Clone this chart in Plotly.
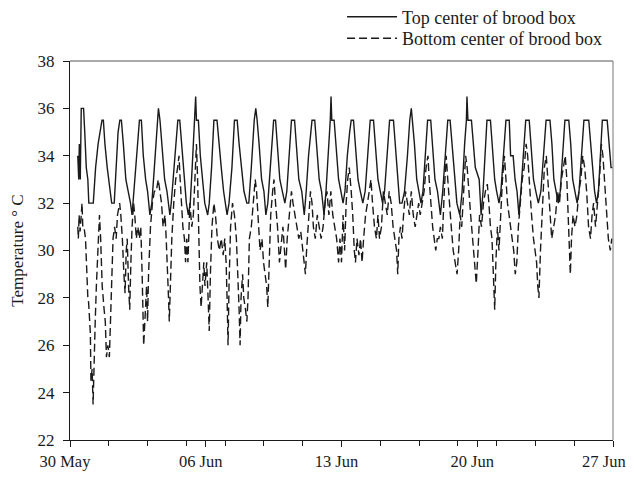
import numpy as np
import pandas as pd
import plotly.graph_objects as go

# ---- data (days since 30 May 00:00, temperature in deg C) ----
top_day = [
    0.40, 0.45, 0.48, 0.53, 0.58, 0.70, 0.76, 0.84, 0.92, 0.97,
    1.20, 1.32, 1.45, 1.55, 1.65, 1.72, 1.80, 1.92, 2.05,
    2.15, 2.28, 2.38, 2.48, 2.57, 2.65, 2.75, 2.88, 3.00,
    3.12, 3.20, 3.30, 3.45, 3.58, 3.68, 3.78, 3.90, 4.00,
    4.12, 4.22, 4.35, 4.48, 4.56, 4.64, 4.75, 4.88, 5.00,
    5.15, 5.22, 5.35, 5.48, 5.56, 5.66, 5.75, 5.88, 6.00,
    6.10, 6.20, 6.30, 6.42, 6.48, 6.52, 6.62, 6.72, 6.85, 6.95,
    7.10, 7.18, 7.30, 7.42, 7.58, 7.68, 7.80, 7.92,
    8.10, 8.20, 8.35, 8.48, 8.62, 8.72, 8.85, 8.97,
    9.12, 9.22, 9.35, 9.50, 9.58, 9.65, 9.75, 9.88, 10.00,
    10.10, 10.20, 10.32, 10.44, 10.50, 10.60, 10.70, 10.82, 10.95,
    11.08, 11.18, 11.30, 11.42, 11.58, 11.68, 11.80, 11.95,
    12.08, 12.18, 12.30, 12.42, 12.48, 12.62, 12.72, 12.85, 12.97,
    13.10, 13.20, 13.32, 13.42, 13.46, 13.50, 13.62, 13.72, 13.85, 13.97,
    14.08, 14.18, 14.30, 14.42, 14.50, 14.62, 14.72, 14.85, 14.97,
    15.10, 15.22, 15.35, 15.48, 15.65, 15.75, 15.88, 16.00,
    16.12, 16.22, 16.35, 16.48, 16.68, 16.78, 16.90, 17.00,
    17.12, 17.25, 17.40, 17.52, 17.60, 17.66, 17.76, 17.88, 18.00,
    18.10, 18.20, 18.32, 18.44, 18.60, 18.70, 18.82, 18.95,
    19.10, 19.22, 19.35, 19.48, 19.60, 19.70, 19.82, 19.95,
    20.10, 20.22, 20.35, 20.44, 20.47, 20.52, 20.70, 20.80, 20.90, 21.10,
    21.20, 21.30, 21.40, 21.50, 21.68, 21.78, 21.90, 22.00,
    22.12, 22.22, 22.35, 22.48, 22.65, 22.72, 22.85, 22.95, 23.05,
    23.15, 23.25, 23.38, 23.50, 23.68, 23.78, 23.90, 24.02,
    24.15, 24.28, 24.42, 24.55, 24.75, 24.85, 24.95, 25.05,
    25.18, 25.28, 25.40, 25.52, 25.72, 25.82, 25.92, 26.05,
    26.15, 26.25, 26.38, 26.50, 26.75, 26.85, 26.95, 27.05,
    27.15, 27.25, 27.35, 27.45, 27.70, 27.80, 27.90, 27.97,
]
top_temp = [
    34.0, 33.0, 34.5, 33.0, 36.0, 36.0, 35.0, 33.5, 33.0, 32.0,
    32.0, 33.5, 34.5, 35.0, 35.5, 35.5, 34.5, 33.5, 32.5,
    32.0, 32.0, 33.5, 35.0, 35.5, 35.5, 34.5, 33.0, 32.5,
    32.0, 31.5, 32.5, 34.0, 35.5, 35.5, 34.0, 33.0, 32.5,
    31.5, 32.0, 33.5, 35.0, 36.0, 35.5, 34.5, 33.0, 32.5,
    31.5, 32.0, 33.5, 35.0, 35.5, 35.5, 34.5, 33.0, 32.0,
    31.5, 32.0, 33.5, 35.5, 36.5, 35.5, 35.5, 34.0, 33.0, 32.0,
    31.5, 32.0, 33.5, 35.5, 35.5, 34.5, 33.5, 32.5,
    31.5, 32.0, 33.5, 35.5, 35.5, 34.5, 33.5, 32.5,
    32.0, 32.0, 33.5, 35.5, 36.0, 35.5, 34.5, 33.0, 32.5,
    31.5, 32.0, 33.5, 35.0, 35.5, 35.5, 34.5, 33.0, 32.5,
    32.0, 32.5, 34.0, 35.5, 35.5, 34.5, 33.0, 32.5,
    31.5, 32.5, 34.0, 35.0, 35.5, 35.5, 34.5, 33.0, 32.5,
    31.5, 32.5, 34.0, 35.5, 36.5, 35.5, 35.5, 34.5, 33.0, 32.5,
    32.0, 32.5, 34.0, 35.0, 35.5, 35.5, 34.5, 33.0, 32.5,
    32.0, 32.5, 34.0, 35.5, 35.5, 34.5, 33.0, 32.5,
    32.0, 32.5, 34.0, 35.5, 35.5, 34.5, 33.0, 32.0,
    32.0, 32.5, 34.0, 35.5, 36.0, 35.5, 34.5, 33.0, 32.5,
    32.0, 32.5, 34.0, 35.5, 35.5, 34.5, 33.0, 32.5,
    31.5, 32.5, 34.0, 35.5, 35.5, 34.5, 33.0, 32.0,
    31.5, 32.5, 34.5, 35.5, 36.5, 35.5, 35.5, 34.5, 33.5, 33.0,
    31.5, 32.5, 34.0, 35.5, 35.5, 34.5, 33.0, 32.5,
    32.0, 32.5, 34.0, 35.5, 35.5, 34.0, 34.0, 33.0, 32.5,
    31.5, 32.5, 34.0, 35.5, 35.5, 34.5, 33.0, 32.5,
    32.0, 32.5, 34.0, 35.5, 35.5, 34.5, 33.0, 32.5,
    32.0, 32.5, 34.0, 35.5, 35.5, 34.5, 33.0, 32.5,
    32.0, 32.5, 34.0, 35.5, 35.5, 34.5, 33.5, 32.5,
    32.0, 32.5, 34.0, 35.5, 35.5, 34.5, 33.5, 33.5,
]

bot_day = [
    0.40, 0.43, 0.47, 0.52, 0.58, 0.62, 0.66, 0.72, 0.80, 0.86, 0.92, 0.96,
    1.00, 1.05, 1.08, 1.14, 1.19, 1.24, 1.30, 1.36, 1.45, 1.52, 1.58, 1.66, 1.76, 1.82, 1.88, 1.95,
    2.03, 2.08, 2.15, 2.22, 2.30, 2.38, 2.45, 2.56, 2.62, 2.70, 2.78, 2.84, 2.90, 2.95,
    3.02, 3.08, 3.14, 3.20, 3.28, 3.34, 3.42, 3.50, 3.58, 3.65, 3.72, 3.76, 3.80, 3.86, 3.95,
    4.00, 4.05, 4.15, 4.25, 4.35, 4.45, 4.55, 4.62, 4.72, 4.80, 4.90, 4.96,
    5.02, 5.08, 5.12, 5.18, 5.25, 5.35, 5.45, 5.55, 5.62, 5.68, 5.75, 5.82, 5.90, 5.96,
    6.02, 6.08, 6.18, 6.28, 6.36, 6.45, 6.52, 6.58, 6.64, 6.70, 6.76, 6.82, 6.90, 6.96,
    7.05, 7.12, 7.18, 7.24, 7.32, 7.42, 7.50, 7.60, 7.70, 7.80, 7.90, 7.98,
    8.05, 8.10, 8.15, 8.20, 8.28, 8.38, 8.48, 8.58, 8.66, 8.72, 8.77, 8.82, 8.90, 8.96,
    9.05, 9.12, 9.18, 9.25, 9.35, 9.45, 9.55, 9.62, 9.72, 9.80, 9.90, 9.98,
    10.06, 10.14, 10.20, 10.26, 10.35, 10.45, 10.52, 10.60, 10.70, 10.80, 10.90, 10.98,
    11.06, 11.12, 11.20, 11.30, 11.42, 11.50, 11.60, 11.70, 11.80, 11.90, 12.00,
    12.08, 12.14, 12.20, 12.30, 12.40, 12.48, 12.55, 12.65, 12.75, 12.85, 12.95,
    13.05, 13.15, 13.25, 13.35, 13.45, 13.55, 13.65, 13.75, 13.85, 13.92,
    14.00, 14.08, 14.16, 14.24, 14.32, 14.40, 14.50, 14.58, 14.66, 14.72, 14.80, 14.90, 14.98,
    15.06, 15.14, 15.24, 15.34, 15.44, 15.52, 15.60, 15.70, 15.80, 15.88, 15.96,
    16.06, 16.16, 16.26, 16.36, 16.46, 16.56, 16.66, 16.76, 16.84, 16.90, 16.96,
    17.04, 17.12, 17.20, 17.30, 17.40, 17.50, 17.60, 17.70, 17.80, 17.90, 17.98,
    18.06, 18.16, 18.26, 18.36, 18.46, 18.52, 18.60, 18.70, 18.78, 18.86, 18.94,
    19.02, 19.10, 19.20, 19.30, 19.40, 19.48, 19.56, 19.66, 19.76, 19.86, 19.96,
    20.04, 20.12, 20.20, 20.30, 20.40, 20.48, 20.56, 20.66, 20.76, 20.86, 20.95,
    21.04, 21.12, 21.22, 21.32, 21.42, 21.52, 21.60, 21.68, 21.76, 21.84, 21.90, 21.96,
    22.04, 22.12, 22.20, 22.30, 22.40, 22.48, 22.56, 22.64, 22.72, 22.80, 22.88, 22.96,
    23.04, 23.12, 23.22, 23.32, 23.42, 23.52, 23.60, 23.70, 23.80, 23.90, 23.98,
    24.06, 24.12, 24.18, 24.26, 24.36, 24.46, 24.56, 24.64, 24.74, 24.84, 24.94,
    25.04, 25.14, 25.24, 25.34, 25.44, 25.54, 25.62, 25.70, 25.76, 25.80, 25.86, 25.94,
    26.04, 26.14, 26.24, 26.34, 26.44, 26.54, 26.64, 26.74, 26.84, 26.92,
    27.00, 27.10, 27.20, 27.30, 27.40, 27.48, 27.56, 27.66, 27.76, 27.86, 27.94,
]
bot_temp = [
    31.0, 30.5, 31.5, 30.8, 31.5, 32.0, 31.0, 31.0, 30.5, 29.0, 28.0, 27.8,
    27.0, 26.5, 24.5, 25.0, 23.5, 25.5, 27.0, 28.5, 30.5, 31.5, 30.5, 28.5, 27.5, 27.0, 25.5, 26.0,
    25.5, 27.0, 29.0, 30.5, 31.0, 30.5, 31.5, 32.0, 31.5, 30.5, 29.0, 28.2, 30.0, 30.5,
    28.5, 27.5, 29.5, 31.0, 32.0, 31.5, 30.5, 31.0, 30.5, 31.0, 29.0, 27.5, 26.0, 27.0, 28.5,
    27.0, 29.0, 31.0, 32.0, 32.5, 32.5, 33.0, 32.5, 32.0, 31.0, 31.5, 30.5,
    29.5, 28.0, 27.0, 28.5, 30.5, 32.0, 33.0, 33.5, 34.0, 33.0, 32.0, 31.0, 30.5, 29.5,
    30.5, 29.5, 32.0, 31.0, 31.5, 33.0, 34.5, 33.0, 30.5, 28.5, 27.6, 28.5, 29.5, 28.5,
    29.5, 28.0, 26.6, 29.0, 31.0, 32.0, 31.5, 30.5, 30.0, 30.5, 29.8, 30.5,
    29.5, 28.0, 26.0, 28.5, 31.0, 32.0, 31.5, 30.5, 29.0, 27.5, 26.0, 28.0, 29.0, 28.0,
    27.5, 27.0, 28.0, 30.5, 31.0, 32.0, 33.0, 32.5, 31.0, 30.0, 30.5, 29.5,
    29.0, 28.5, 27.6, 29.5, 31.5, 32.5, 33.0, 32.0, 31.0, 29.5, 30.5, 31.0,
    30.0, 29.2, 30.5, 31.5, 32.5, 32.0, 31.5, 31.0, 30.5, 30.8, 30.0,
    29.5, 29.0, 30.0, 31.5, 32.5, 32.0, 31.0, 30.5, 31.5, 31.0, 30.5,
    31.0, 32.0, 32.5, 31.5, 32.5, 31.5, 31.0, 30.5, 29.5, 30.5,
    29.5, 31.5, 30.0, 32.0, 33.0, 33.5, 32.5, 31.5, 30.0, 29.5, 30.5, 29.8, 30.5,
    29.5, 30.5, 31.5, 32.0, 32.5, 33.0, 32.0, 31.0, 30.5, 31.5, 30.5,
    31.0, 32.5, 32.0, 31.5, 32.5, 32.0, 31.0, 30.5, 30.0, 29.0, 30.5,
    31.0, 30.5, 31.5, 32.5, 32.0, 31.5, 32.5, 31.5, 31.0, 31.5, 32.0,
    31.5, 32.0, 32.5, 33.5, 34.0, 33.0, 32.0, 31.0, 30.5, 30.0, 30.5,
    30.5, 31.0, 30.5, 32.5, 34.0, 33.0, 32.0, 31.0, 30.0, 29.5, 29.0,
    30.0, 31.5, 31.0, 32.5, 34.0, 33.5, 32.5, 31.5, 30.5, 29.5, 28.6,
    30.0, 31.5, 31.0, 32.0, 32.5, 32.8, 32.0, 31.0, 30.5, 29.0, 27.5, 29.5,
    31.0, 30.0, 31.5, 33.0, 34.0, 33.0, 32.0, 31.5, 31.0, 30.5, 30.0, 29.0,
    29.5, 31.0, 32.0, 33.0, 33.5, 34.5, 34.0, 32.5, 31.5, 30.5, 30.0,
    29.5, 28.5, 28.0, 30.0, 32.0, 33.5, 34.0, 33.0, 31.5, 30.5, 31.0,
    31.5, 32.5, 32.0, 33.0, 33.5, 34.0, 33.0, 31.0, 30.0, 29.0, 30.5, 31.5,
    31.0, 31.5, 32.5, 33.0, 34.0, 33.5, 32.5, 31.0, 30.5, 31.5,
    32.0, 31.0, 32.0, 33.0, 34.5, 34.0, 33.0, 31.5, 30.5, 30.0, 30.5,
]

series_names = ["Top center of brood box", "Bottom center of brood box"]
y_ticks = [22, 24, 26, 28, 30, 32, 34, 36, 38]
x_tick_dates = ["2007-05-30", "2007-06-06", "2007-06-13", "2007-06-20", "2007-06-27"]
x_tick_labels = ["30 May", "06 Jun", "13 Jun", "20 Jun", "27 Jun"]
start_date = "2007-05-30"
end_date = "2007-06-27"

assert len(top_day) == len(top_temp)
assert len(bot_day) == len(bot_temp)

base = pd.Timestamp(start_date)
top_x = base + pd.to_timedelta(np.array(top_day), unit="D")
bot_x = base + pd.to_timedelta(np.array(bot_day), unit="D")

FONT = "Liberation Serif, Times New Roman, serif"
ink = "#1a1a1a"

# The page body has an 8px margin, so the figure is sized 8px smaller
# than the 634x477 window and its margins are reduced by the same amount.
W, H = 626, 469
ML, MR, MT, MB = 62, 21, 53, 37
plot_h = H - MT - MB


def paper_y(fig_px):
    """convert a figure-pixel y (from top) into paper coordinates"""
    return 1 + (MT - fig_px) / plot_h


# the last date label sits at the right edge: pad it so it stays on the page
shown_labels = list(x_tick_labels)
shown_labels[-1] = shown_labels[-1] + "\u00a0\u00a0"

fig = go.Figure()
fig.add_trace(go.Scatter(
    x=top_x, y=top_temp, mode="lines", name=series_names[0],
    line=dict(color=ink, width=1.4), legend="legend",
))
fig.add_trace(go.Scatter(
    x=bot_x, y=bot_temp, mode="lines", name=series_names[1],
    line=dict(color=ink, width=1.4, dash="8px,4px"), legend="legend2",
))

legend_common = dict(
    x=0.501, xanchor="left", yanchor="middle",
    bgcolor="rgba(0,0,0,0)", borderwidth=0,
    font=dict(family=FONT, size=18, color=ink),
    itemwidth=50,
)

fig.update_layout(
    width=W, height=H,
    margin=dict(l=ML, r=MR, t=MT, b=MB, autoexpand=False),
    paper_bgcolor="white", plot_bgcolor="white",
    font=dict(family=FONT, size=17, color=ink),
    showlegend=True,
    legend=dict(y=paper_y(9), **legend_common),
    legend2=dict(y=paper_y(30.5), **legend_common),
)

fig.update_xaxes(
    type="date",
    range=[start_date, end_date],
    tickvals=x_tick_dates, ticktext=shown_labels,
    ticks="outside", ticklen=6, tickcolor=ink, tickwidth=1,
    ticklabelshift=-5, ticklabeloverflow="allow",
    minor=dict(dtick=2 * 86400000, tick0=start_date, ticks="outside",
               ticklen=5, tickcolor=ink, showgrid=False),
    showline=True, linecolor=ink, linewidth=1,
    showgrid=False, zeroline=False, automargin=False,
    tickfont=dict(family=FONT, size=16.5, color=ink),
)
fig.update_yaxes(
    range=[22, 38],
    tickvals=y_ticks,
    ticks="outside", ticklen=6, tickcolor=ink, tickwidth=1,
    ticklabelstandoff=5,
    showline=True, linecolor=ink, linewidth=1,
    showgrid=False, zeroline=False, automargin=False,
    title=dict(text="Temperature ° C", font=dict(family=FONT, size=17, color=ink), standoff=18),
    tickfont=dict(family=FONT, size=17, color=ink),
)

# top and right frame lines (lighter, as in the reference)
fig.add_shape(type="line", xref="paper", yref="paper", x0=0, x1=1, y0=1, y1=1,
              line=dict(color="#555555", width=1))
fig.add_shape(type="line", xref="paper", yref="paper", x0=1, x1=1, y0=0, y1=1,
              line=dict(color="#777777", width=1))

fig.write_html("out.html")
